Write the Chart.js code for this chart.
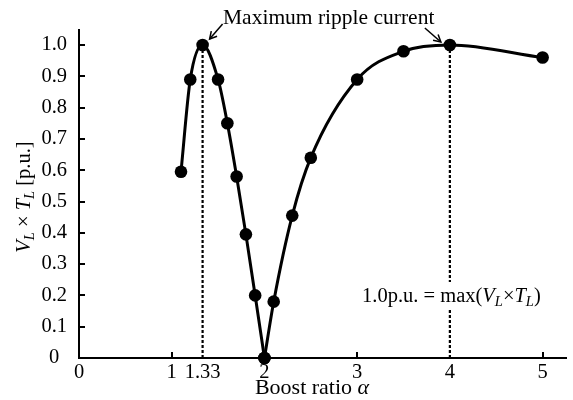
<!DOCTYPE html>
<html><head><meta charset="utf-8">
<script src="https://cdn.jsdelivr.net/npm/chart.js@4/dist/chart.umd.min.js"></script>
<style>html,body{margin:0;padding:0;background:#fff;} #wrap{width:573px;height:400px;}</style>
</head><body><div id="wrap"><canvas id="c" width="573" height="400"></canvas></div>
<script>
// ---- data ----
const leftAlpha  = [1.1, 1.2, 1.333, 1.5, 1.6, 1.7, 1.8, 1.9, 2.0];
const leftValue  = [0.595, 0.89, 1.0, 0.89, 0.75, 0.58, 0.395, 0.2, 0.0];
const rightAlpha = [2.0, 2.1, 2.3, 2.5, 3.0, 3.5, 4.0, 5.0];
const rightValue = [0.0, 0.18, 0.455, 0.64, 0.89, 0.98, 1.0, 0.96];
const xTicks      = [0, 1, 1.333, 2, 3, 4, 5];
const xTickLabels = ['0', '1', '1.33', '2', '3', '4', '5'];
const yTicks      = [0, 0.1, 0.2, 0.3, 0.4, 0.5, 0.6, 0.7, 0.8, 0.9, 1.0];
const yTickLabels = ['0', '0.1', '0.2', '0.3', '0.4', '0.5', '0.6', '0.7', '0.8', '0.9', '1.0'];
const guideAlpha  = [1.333, 4];
const guideValue  = [1.0, 1.0];
const annotTitle  = 'Maximum ripple current';

const SERIF = "'Liberation Serif', 'Times New Roman', serif";
Chart.defaults.font.family = SERIF;
Chart.defaults.color = '#000';

const toXY = (xs, ys) => xs.map((x, i) => ({x: x, y: ys[i]}));

const mainStyle = {
  showLine: true, borderColor: '#000', backgroundColor: '#000',
  borderWidth: 3, pointRadius: 6.3, pointHoverRadius: 6.3, pointBorderWidth: 0,
  cubicInterpolationMode: 'monotone', clip: false, order: 1
};
const datasets = [
  Object.assign({data: toXY(leftAlpha, leftValue)}, mainStyle),
  Object.assign({data: toXY(rightAlpha, rightValue)}, mainStyle)
];
guideAlpha.forEach((a, i) => {
  datasets.push({
    data: [{x: a, y: 0}, {x: a, y: guideValue[i]}],
    showLine: true, borderColor: '#000', borderWidth: 2.2, borderDash: [3, 2],
    pointRadius: 0, pointHoverRadius: 0, clip: false, order: 3
  });
});

function fontFor(st, size) {
  return (st === 'i' || st === 'sub' ? 'italic ' : '') + size + 'px ' + SERIF;
}
function drawRuns(ctx, runs, x, baseline) {
  let cx = x;
  runs.forEach(r => {
    const [t, st, size] = r;
    ctx.font = fontFor(st, size);
    ctx.fillText(t, cx, baseline + (st === 'sub' ? 4 : 0));
    cx += ctx.measureText(t).width;
  });
  return cx - x;
}
function runsWidth(ctx, runs) {
  let w = 0;
  runs.forEach(r => { ctx.font = fontFor(r[1], r[2]); w += ctx.measureText(r[0]).width; });
  return w;
}
function arrow(ctx, x0, y0, x1, y1) {
  ctx.beginPath(); ctx.moveTo(x0, y0); ctx.lineTo(x1, y1); ctx.stroke();
  const ang = Math.atan2(y1 - y0, x1 - x0), L = 8, w = 0.5;
  ctx.beginPath();
  ctx.moveTo(x1 - L * Math.cos(ang - w), y1 - L * Math.sin(ang - w));
  ctx.lineTo(x1, y1);
  ctx.lineTo(x1 - L * Math.cos(ang + w), y1 - L * Math.sin(ang + w));
  ctx.stroke();
}

const decor = {
  id: 'decor',
  afterDraw(chart) {
    const {ctx, chartArea: ca, scales: {x, y}} = chart;
    ctx.save();
    ctx.strokeStyle = '#000'; ctx.fillStyle = '#000'; ctx.lineWidth = 2;
    // inside tick marks
    xTicks.forEach(v => {
      if (v === 0 || guideAlpha.includes(v)) return;
      const px = Math.round(x.getPixelForValue(v));
      ctx.beginPath(); ctx.moveTo(px, ca.bottom); ctx.lineTo(px, ca.bottom - 6); ctx.stroke();
    });
    yTicks.forEach(v => {
      if (v === 0) return;
      const py = Math.round(y.getPixelForValue(v));
      ctx.beginPath(); ctx.moveTo(ca.left, py); ctx.lineTo(ca.left + 6, py); ctx.stroke();
    });
    // annotation title + arrows
    ctx.textAlign = 'left'; ctx.textBaseline = 'alphabetic';
    ctx.font = '21.5px ' + SERIF;
    ctx.fillText(annotTitle, 223, 24);
    ctx.lineWidth = 1.5;
    const p1x = x.getPixelForValue(guideAlpha[0]), p1y = y.getPixelForValue(guideValue[0]);
    arrow(ctx, p1x + 20, p1y - 21, p1x + 7, p1y - 6);
    const p2x = x.getPixelForValue(guideAlpha[1]), p2y = y.getPixelForValue(guideValue[1]);
    arrow(ctx, p2x - 25, p2y - 17, p2x - 9, p2y - 3);
    // definition text with white background
    const runs = [['1.0p.u. = max(', 'n', 20.5], ['V', 'i', 20.5], ['L', 'sub', 14.5], ['×', 'n', 20.5],
                  ['T', 'i', 20.5], ['L', 'sub', 14.5], [')', 'n', 20.5]];
    const w = runsWidth(ctx, runs);
    ctx.fillStyle = '#fff';
    ctx.fillRect(360, 282, w + 4, 27);
    ctx.fillStyle = '#000';
    drawRuns(ctx, runs, 362, 302);
    // x title
    const xr = [['Boost ratio ', 'n', 22], ['α', 'i', 22]];
    const xw = runsWidth(ctx, xr);
    drawRuns(ctx, xr, 312 - xw / 2, 394);
    // y title (rotated)
    const yr = [['V', 'i', 20.5], ['L', 'sub', 14.5], [' × ', 'n', 20.5], ['T', 'i', 20.5], ['L', 'sub', 14.5], [' [p.u.]', 'n', 20.5]];
    const yw = runsWidth(ctx, yr);
    ctx.translate(30, 197); ctx.rotate(-Math.PI / 2);
    drawRuns(ctx, yr, -yw / 2, 0);
    ctx.restore();
  }
};

new Chart(document.getElementById('c'), {
  type: 'scatter',
  data: {datasets: datasets},
  options: {
    responsive: false, animation: false, events: [],
    layout: {padding: {left: 0, right: 5, top: 30, bottom: 0}},
    plugins: {legend: {display: false}, tooltip: {enabled: false}},
    scales: {
      x: {
        type: 'linear', min: 0, max: 5.26,
        afterFit(s) { s.height = 42; },
        afterBuildTicks(s) { s.ticks = xTicks.map(v => ({value: v})); },
        ticks: {autoSkip: false, maxRotation: 0, minRotation: 0, padding: 2, color: '#000',
                font: {size: 20.5}, callback: (v, i) => xTickLabels[i]},
        grid: {display: false, drawTicks: false, drawOnChartArea: false},
        border: {display: true, color: '#000', width: 2}
      },
      y: {
        type: 'linear', min: 0, max: 1.048,
        afterFit(s) { s.width = 79; },
        afterBuildTicks(s) { s.ticks = yTicks.map(v => ({value: v})); },
        ticks: {autoSkip: false, crossAlign: 'center', padding: 12, color: '#000',
                font: {size: 20.5}, callback: (v, i) => yTickLabels[i]},
        grid: {display: false, drawTicks: false, drawOnChartArea: false},
        border: {display: true, color: '#000', width: 2}
      }
    }
  },
  plugins: [decor]
});
</script>
</body></html>
